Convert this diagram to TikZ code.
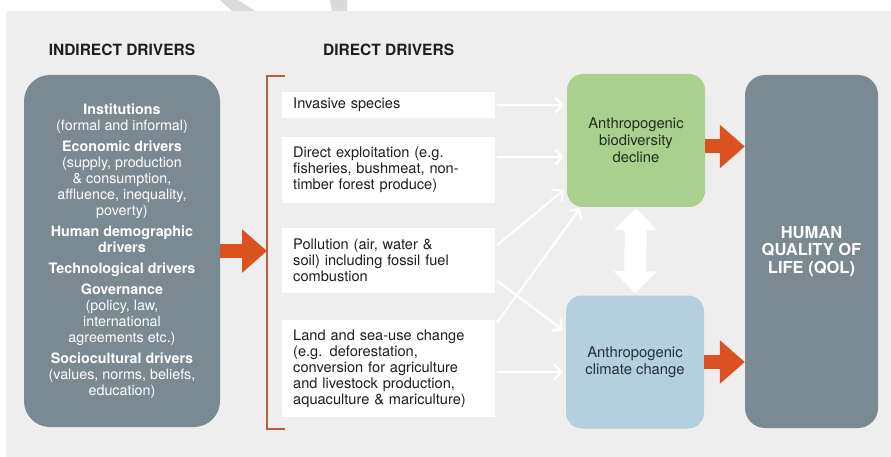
\documentclass[tikz,border=0pt]{standalone}
\usepackage{fontspec}
\setmainfont{TeX Gyre Heros}
\usetikzlibrary{arrows.meta}
\definecolor{panel}{HTML}{EEEEEE}
\definecolor{stripe}{HTML}{DADADA}
\definecolor{slate}{HTML}{7B8993}
\definecolor{orangearrow}{HTML}{D9521F}
\definecolor{bracketc}{HTML}{B2603F}
\definecolor{greenbox}{HTML}{A9D18D}
\definecolor{bluebox}{HTML}{B4CFDD}
\definecolor{darktext}{HTML}{1E1E1E}
\definecolor{greentext}{HTML}{1F2E1C}
\definecolor{bluetext}{HTML}{22303A}
\tikzset{
  titletext/.style={font=\fontsize{15.5}{18}\selectfont\bfseries, text=darktext, inner sep=0pt},
  slatebox/.style={fill=slate, rounded corners=26pt, text=white, align=center, inner sep=0pt},
  driverbox/.style={fill=white, anchor=west, text width=191pt, inner xsep=11pt, inner ysep=0pt,
    align=left, font=\fontsize{14.6}{16}\selectfont, text=darktext},
  effectbox/.style={rounded corners=16pt, minimum width=138pt, minimum height=133pt, inner sep=0pt,
    align=center, font=\fontsize{14.8}{17}\selectfont},
  thinarrow/.style={draw=white, line width=2.2pt, line cap=round, -{Straight Barb[length=7pt,width=15pt]}},
  bigarrow/.style={draw=orangearrow, line width=14pt, -{Triangle[length=25pt,width=42pt]}},
  whitearrow/.style={draw=white, line width=22pt, {Triangle[length=22pt,width=42pt]}-{Triangle[length=22pt,width=42pt]}}
}
\begin{document}
\begin{tikzpicture}[x=1pt,y=-1pt]
\useasboundingbox (0,0) rectangle (891,457);
\fill[white] (0,0) rectangle (891,457);
\fill[stripe] (220,0) -- (238,0) -- (255,11) -- (232,11) -- cycle;
\fill[stripe] (330,0) -- (347,0) -- (347,11) -- (332,11) -- cycle;
\fill[panel] (6,11) rectangle (891,457);

% titles
\node[titletext] (tind) at (122,50) {INDIRECT DRIVERS};
\node[titletext, anchor=west] (tdir) at (323,50) {DIRECT DRIVERS};

% indirect drivers box
\node[slatebox, minimum width=196pt, minimum height=352pt,
  font=\fontsize{14.3}{16}\selectfont] (ind) at (122,251)
  {\textbf{Institutions}\\(formal and informal)\\[5pt]
   \textbf{Economic drivers}\\(supply, production\\\& consumption,\\affluence, inequality,\\poverty)\\[5pt]
   \textbf{Human demographic}\\\textbf{drivers}\\[5pt]
   \textbf{Technological drivers}\\[5pt]
   \textbf{Governance}\\(policy, law,\\international\\agreements etc.)\\[5pt]
   \textbf{Sociocultural drivers}\\(values, norms, beliefs,\\education)};

% bracket
\draw[bracketc, line width=2pt] (285,76) -- (267,76) -- (267,429) -- (285,429);
\coordinate (brk) at (267,251);

% direct driver boxes
\node[driverbox, minimum height=26pt] (inv) at (282,105) {Invasive species};
\node[driverbox, minimum height=66pt] (dex) at (282,170) {Direct exploitation (e.g.\\fisheries, bushmeat, non-\\timber forest produce)};
\node[driverbox, minimum height=65pt] (pol) at (282,260.5) {Pollution (air, water \&\\soil) including fossil fuel\\combustion};
\node[driverbox, minimum height=97pt] (lnd) at (282,368.5) {Land and sea-use change\\(e.g. deforestation,\\conversion for agriculture\\and livestock production,\\aquaculture \& mariculture)};

% effect boxes
\node[effectbox, fill=greenbox, text=greentext] (bio) at (636,140.5) {Anthropogenic\\biodiversity\\decline};
\node[effectbox, fill=bluebox, text=bluetext] (clim) at (635,362) {Anthropogenic\\climate change};

% quality of life
\node[slatebox, rounded corners=20pt, minimum width=133pt, minimum height=353pt,
  font=\fontsize{16.5}{17.5}\selectfont\bfseries] (qol) at (811.5,251.5) {HUMAN\\QUALITY OF\\LIFE (QOL)};

% big arrows
\draw[bigarrow] (ind.east) -- (brk);
\draw[bigarrow] ([yshift=-6pt]bio.east) -- ([yshift=-6pt]bio.east -| qol.west);
\draw[bigarrow] (clim.east) -- (clim.east -| qol.west);
\draw[whitearrow] ([yshift=-1pt]bio.south) -- ([yshift=2pt]clim.north);

% thin arrows
\draw[thinarrow] ([xshift=2pt]inv.east) -- ([xshift=-3pt]inv.east -| bio.west);
\draw[thinarrow] ([xshift=2pt,yshift=13pt]dex.east) -- ([xshift=-3pt,yshift=13pt]dex.east -| bio.west);
\draw[thinarrow] ([xshift=2pt,yshift=15.5pt]pol.east) -- ([xshift=-3pt,yshift=-49.5pt]bio.west);
\draw[thinarrow] ([xshift=2pt,yshift=-20.5pt]pol.east) -- ([xshift=-3pt,yshift=32pt]clim.west);
\draw[thinarrow] ([xshift=2pt,yshift=46.5pt]lnd.east) -- ([xshift=-56pt,yshift=-1pt]bio.south);
\draw[thinarrow] ([xshift=2pt,yshift=-3.5pt]lnd.east) -- ([xshift=-3pt,yshift=-10pt]clim.west);
\end{tikzpicture}
\end{document}
